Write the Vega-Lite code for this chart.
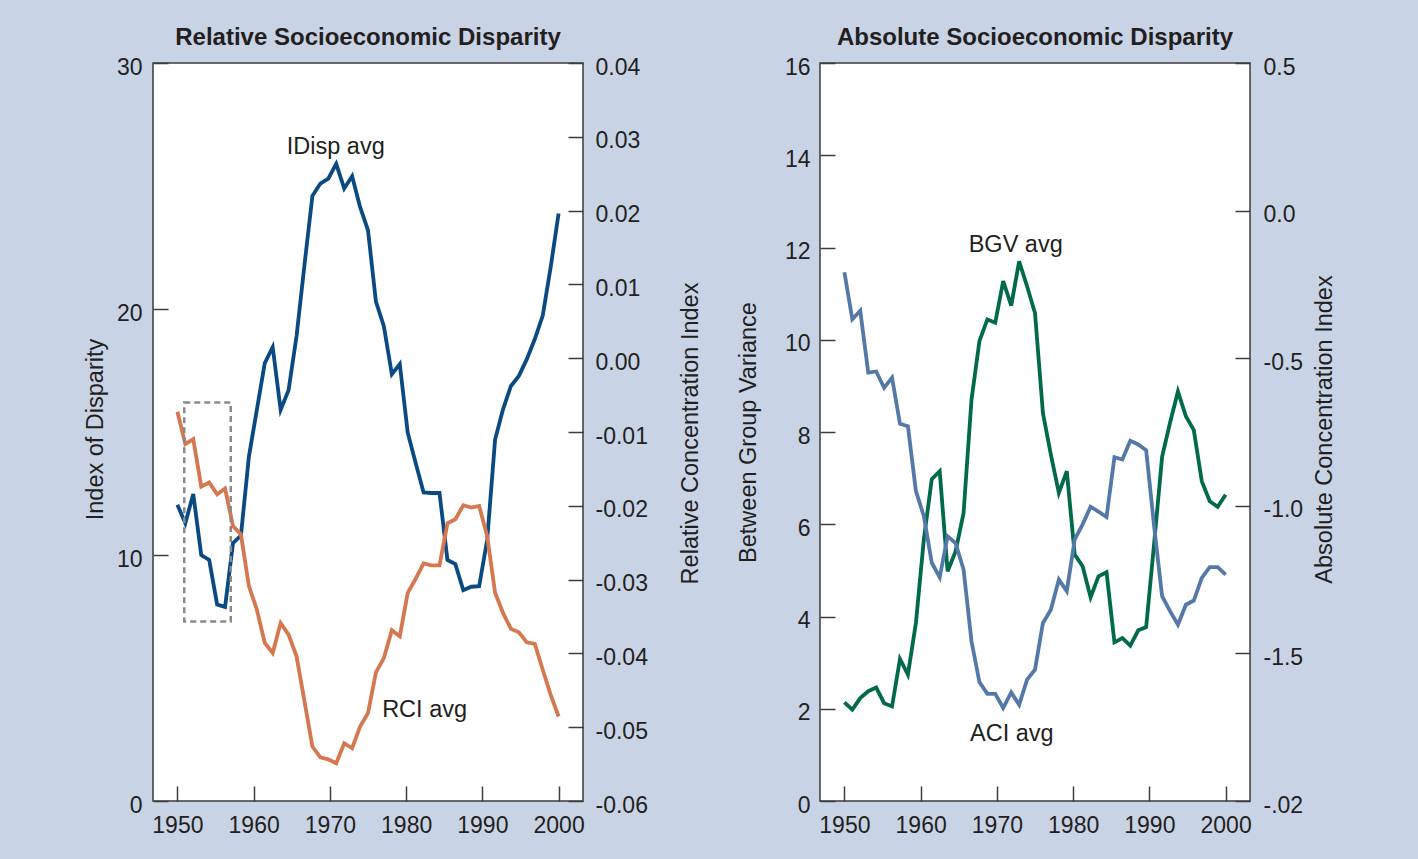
{
  "$schema": "https://vega.github.io/schema/vega-lite/v6.json",
  "autosize": {"type": "none"},
  "padding": {"left": 153, "top": 63, "right": 1265, "bottom": 796},
  "background": "#c9d3e6",
  "spacing": 237,
  "bounds": "flush",
  "datasets": {
    "relative": [
      {"year": 1950, "idisp": 12.04, "rci": -0.00725},
      {"year": 1951.04, "idisp": 11.29, "rci": -0.01164},
      {"year": 1952.08, "idisp": 12.48, "rci": -0.01096},
      {"year": 1953.13, "idisp": 10.0, "rci": -0.01739},
      {"year": 1954.17, "idisp": 9.8, "rci": -0.01685},
      {"year": 1955.21, "idisp": 7.99, "rci": -0.01843},
      {"year": 1956.25, "idisp": 7.89, "rci": -0.01766},
      {"year": 1957.29, "idisp": 10.48, "rci": -0.02274},
      {"year": 1958.33, "idisp": 10.79, "rci": -0.02387},
      {"year": 1959.38, "idisp": 14.0, "rci": -0.03089},
      {"year": 1960.42, "idisp": 15.9, "rci": -0.03406},
      {"year": 1961.46, "idisp": 17.8, "rci": -0.03859},
      {"year": 1962.5, "idisp": 18.45, "rci": -0.03995},
      {"year": 1963.54, "idisp": 15.9, "rci": -0.03587},
      {"year": 1964.58, "idisp": 16.7, "rci": -0.03746},
      {"year": 1965.63, "idisp": 18.9, "rci": -0.0404},
      {"year": 1966.67, "idisp": 21.8, "rci": -0.0465},
      {"year": 1967.71, "idisp": 24.6, "rci": -0.05262},
      {"year": 1968.75, "idisp": 25.1, "rci": -0.05408},
      {"year": 1969.79, "idisp": 25.3, "rci": -0.05435},
      {"year": 1970.83, "idisp": 25.9, "rci": -0.05489},
      {"year": 1971.88, "idisp": 24.9, "rci": -0.05217},
      {"year": 1972.92, "idisp": 25.4, "rci": -0.05285},
      {"year": 1973.96, "idisp": 24.15, "rci": -0.0499},
      {"year": 1975, "idisp": 23.2, "rci": -0.0481},
      {"year": 1976.04, "idisp": 20.3, "rci": -0.04257},
      {"year": 1977.08, "idisp": 19.3, "rci": -0.04063},
      {"year": 1978.13, "idisp": 17.35, "rci": -0.03686},
      {"year": 1979.17, "idisp": 17.76, "rci": -0.03768},
      {"year": 1980.21, "idisp": 14.97, "rci": -0.03179},
      {"year": 1981.25, "idisp": 13.74, "rci": -0.02989},
      {"year": 1982.29, "idisp": 12.54, "rci": -0.02781},
      {"year": 1983.33, "idisp": 12.52, "rci": -0.02808},
      {"year": 1984.38, "idisp": 12.52, "rci": -0.02808},
      {"year": 1985.42, "idisp": 9.8, "rci": -0.02238},
      {"year": 1986.46, "idisp": 9.63, "rci": -0.02183},
      {"year": 1987.5, "idisp": 8.57, "rci": -0.01993},
      {"year": 1988.54, "idisp": 8.71, "rci": -0.02024},
      {"year": 1989.58, "idisp": 8.73, "rci": -0.02002},
      {"year": 1990.63, "idisp": 10.61, "rci": -0.02409},
      {"year": 1991.67, "idisp": 14.69, "rci": -0.03179},
      {"year": 1992.71, "idisp": 15.92, "rci": -0.03451},
      {"year": 1993.75, "idisp": 16.87, "rci": -0.03668},
      {"year": 1994.79, "idisp": 17.28, "rci": -0.03714},
      {"year": 1995.83, "idisp": 17.96, "rci": -0.0385},
      {"year": 1996.88, "idisp": 18.78, "rci": -0.03872},
      {"year": 1997.92, "idisp": 19.73, "rci": -0.04221},
      {"year": 1998.96, "idisp": 21.7, "rci": -0.04561},
      {"year": 2000, "idisp": 23.88, "rci": -0.04855}
    ],
    "absolute": [
      {"year": 1950, "bgv": 2.14, "aci": -0.209},
      {"year": 1951.04, "bgv": 1.98, "aci": -0.368},
      {"year": 1952.08, "bgv": 2.23, "aci": -0.339},
      {"year": 1953.13, "bgv": 2.38, "aci": -0.549},
      {"year": 1954.17, "bgv": 2.46, "aci": -0.545},
      {"year": 1955.21, "bgv": 2.12, "aci": -0.6},
      {"year": 1956.25, "bgv": 2.05, "aci": -0.566},
      {"year": 1957.29, "bgv": 3.08, "aci": -0.722},
      {"year": 1958.33, "bgv": 2.74, "aci": -0.73},
      {"year": 1959.38, "bgv": 3.86, "aci": -0.95},
      {"year": 1960.42, "bgv": 5.67, "aci": -1.035},
      {"year": 1961.46, "bgv": 6.98, "aci": -1.193},
      {"year": 1962.5, "bgv": 7.15, "aci": -1.242},
      {"year": 1963.54, "bgv": 4.98, "aci": -1.103},
      {"year": 1964.58, "bgv": 5.41, "aci": -1.126},
      {"year": 1965.63, "bgv": 6.24, "aci": -1.216},
      {"year": 1966.67, "bgv": 8.7, "aci": -1.459},
      {"year": 1967.71, "bgv": 9.97, "aci": -1.597},
      {"year": 1968.75, "bgv": 10.44, "aci": -1.637},
      {"year": 1969.79, "bgv": 10.37, "aci": -1.637},
      {"year": 1970.83, "bgv": 11.27, "aci": -1.685},
      {"year": 1971.88, "bgv": 10.74, "aci": -1.632},
      {"year": 1972.92, "bgv": 11.7, "aci": -1.674},
      {"year": 1973.96, "bgv": 11.16, "aci": -1.589},
      {"year": 1975, "bgv": 10.58, "aci": -1.555},
      {"year": 1976.04, "bgv": 8.41, "aci": -1.397},
      {"year": 1977.08, "bgv": 7.51, "aci": -1.352},
      {"year": 1978.13, "bgv": 6.68, "aci": -1.25},
      {"year": 1979.17, "bgv": 7.15, "aci": -1.289},
      {"year": 1980.21, "bgv": 5.34, "aci": -1.114},
      {"year": 1981.25, "bgv": 5.09, "aci": -1.063},
      {"year": 1982.29, "bgv": 4.42, "aci": -1.003},
      {"year": 1983.33, "bgv": 4.87, "aci": -1.02},
      {"year": 1984.38, "bgv": 4.96, "aci": -1.038},
      {"year": 1985.42, "bgv": 3.44, "aci": -0.835},
      {"year": 1986.46, "bgv": 3.53, "aci": -0.843},
      {"year": 1987.5, "bgv": 3.37, "aci": -0.78},
      {"year": 1988.54, "bgv": 3.7, "aci": -0.792},
      {"year": 1989.58, "bgv": 3.77, "aci": -0.812},
      {"year": 1990.63, "bgv": 5.59, "aci": -1.07},
      {"year": 1991.67, "bgv": 7.46, "aci": -1.306},
      {"year": 1992.71, "bgv": 8.2, "aci": -1.357},
      {"year": 1993.75, "bgv": 8.88, "aci": -1.403},
      {"year": 1994.79, "bgv": 8.34, "aci": -1.335},
      {"year": 1995.83, "bgv": 8.04, "aci": -1.321},
      {"year": 1996.88, "bgv": 6.93, "aci": -1.244},
      {"year": 1997.92, "bgv": 6.5, "aci": -1.208},
      {"year": 1998.96, "bgv": 6.38, "aci": -1.208},
      {"year": 2000, "bgv": 6.64, "aci": -1.233}
    ],
    "relLabels": [
      {"year": 1970.77, "val": 26.3, "label": "IDisp avg"},
      {"year": 1982.42, "val": 3.43, "label": "RCI avg"}
    ],
    "absLabels": [
      {"year": 1972.47, "val": 11.9, "label": "BGV avg"},
      {"year": 1971.96, "val": 1.31, "label": "ACI avg"}
    ],
    "box": [
      {"year": 1950.9, "year2": 1957.0, "lo": 7.3, "hi": 16.2}
    ]
  },
  "hconcat": [
    {
      "width": 430,
      "height": 738,
      "title": {"text": "Relative Socioeconomic Disparity", "frame": "group", "anchor": "middle", "offset": -13, "baseline": "alphabetic"},
      "resolve": {"scale": {"y": "independent"}},
      "layer": [
        {
          "data": {"name": "relative"},
          "mark": {"type": "line", "color": "#0a4a82", "strokeWidth": 3.8},
          "encoding": {
            "x": {"field": "year", "type": "quantitative", "scale": {"domain": [1946.8, 2003.2], "nice": false, "zero": false}, "axis": {"values": [1950, 1960, 1970, 1980, 1990, 2000], "format": "d", "title": null, "labelPadding": 28}},
            "y": {"field": "idisp", "type": "quantitative", "scale": {"domain": [0, 30], "nice": false, "zero": false},
              "axis": {"orient": "left", "values": [0, 10, 20, 30], "labelPadding": 26, "title": "Index of Disparity", "titleX": -51, "titleY": 366, "titleAngle": 270, "titleAlign": "center", "titleBaseline": "alphabetic"}}
          }
        },
        {
          "data": {"name": "relative"},
          "mark": {"type": "line", "color": "#d5774f", "strokeWidth": 3.8},
          "encoding": {
            "x": {"field": "year", "type": "quantitative", "scale": {"domain": [1946.8, 2003.2], "nice": false, "zero": false}, "axis": {"values": [1950, 1960, 1970, 1980, 1990, 2000], "format": "d", "title": null, "labelPadding": 28}},
            "y": {"field": "rci", "type": "quantitative", "scale": {"domain": [-0.06, 0.04], "nice": false, "zero": false},
              "axis": {"orient": "right", "values": [0.04, 0.03, 0.02, 0.01, 0, -0.01, -0.02, -0.03, -0.04, -0.05, -0.06], "labelExpr": "(datum.value < 0 ? '-' : '') + format(abs(datum.value), '.2f')", "labelPadding": 27, "title": "Relative Concentration Index", "titleX": 114, "titleY": 370, "titleAngle": 270, "titleAlign": "center", "titleBaseline": "alphabetic"}}
          }
        },
        {
          "data": {"name": "box"},
          "mark": {"type": "rect", "fill": "transparent", "stroke": "#8a8a8a", "strokeWidth": 2.5, "strokeDash": [6, 4]},
          "encoding": {
            "x": {"field": "year", "type": "quantitative", "scale": {"domain": [1946.8, 2003.2], "nice": false, "zero": false}, "axis": {"values": [1950, 1960, 1970, 1980, 1990, 2000], "format": "d", "title": null, "labelPadding": 28}},
            "x2": {"field": "year2"},
            "y": {"field": "lo", "type": "quantitative", "scale": {"domain": [0, 30], "nice": false, "zero": false}, "axis": null},
            "y2": {"field": "hi"}
          }
        },
        {
          "data": {"name": "relLabels"},
          "mark": {"type": "text", "align": "center", "baseline": "alphabetic", "fontSize": 23.5, "color": "#231f20"},
          "encoding": {
            "x": {"field": "year", "type": "quantitative", "scale": {"domain": [1946.8, 2003.2], "nice": false, "zero": false}, "axis": {"values": [1950, 1960, 1970, 1980, 1990, 2000], "format": "d", "title": null, "labelPadding": 28}},
            "y": {"field": "val", "type": "quantitative", "scale": {"domain": [0, 30], "nice": false, "zero": false}, "axis": null},
            "text": {"field": "label"}
          }
        }
      ]
    },
    {
      "width": 430,
      "height": 738,
      "title": {"text": "Absolute Socioeconomic Disparity", "frame": "group", "anchor": "middle", "offset": -13, "baseline": "alphabetic"},
      "resolve": {"scale": {"y": "independent"}},
      "layer": [
        {
          "data": {"name": "absolute"},
          "mark": {"type": "line", "color": "#006a4a", "strokeWidth": 3.8},
          "encoding": {
            "x": {"field": "year", "type": "quantitative", "scale": {"domain": [1946.8, 2003.2], "nice": false, "zero": false}, "axis": {"values": [1950, 1960, 1970, 1980, 1990, 2000], "format": "d", "title": null, "labelPadding": 28}},
            "y": {"field": "bgv", "type": "quantitative", "scale": {"domain": [0, 16], "nice": false, "zero": false},
              "axis": {"orient": "left", "values": [0, 2, 4, 6, 8, 10, 12, 14, 16], "labelPadding": 25, "title": "Between Group Variance", "titleX": -65, "titleY": 369, "titleAngle": 270, "titleAlign": "center", "titleBaseline": "alphabetic"}}
          }
        },
        {
          "data": {"name": "absolute"},
          "mark": {"type": "line", "color": "#5479a9", "strokeWidth": 3.8},
          "encoding": {
            "x": {"field": "year", "type": "quantitative", "scale": {"domain": [1946.8, 2003.2], "nice": false, "zero": false}, "axis": {"values": [1950, 1960, 1970, 1980, 1990, 2000], "format": "d", "title": null, "labelPadding": 28}},
            "y": {"field": "aci", "type": "quantitative", "scale": {"domain": [-2, 0.5], "nice": false, "zero": false},
              "axis": {"orient": "right", "values": [0.5, 0, -0.5, -1, -1.5, -2], "labelExpr": "datum.value == -2 ? '-.02' : (datum.value < 0 ? '-' : '') + format(abs(datum.value), '.1f')", "labelPadding": 28, "title": "Absolute Concentration Index", "titleX": 81, "titleY": 366, "titleAngle": 270, "titleAlign": "center", "titleBaseline": "alphabetic"}}
          }
        },
        {
          "data": {"name": "absLabels"},
          "mark": {"type": "text", "align": "center", "baseline": "alphabetic", "fontSize": 23.5, "color": "#231f20"},
          "encoding": {
            "x": {"field": "year", "type": "quantitative", "scale": {"domain": [1946.8, 2003.2], "nice": false, "zero": false}, "axis": {"values": [1950, 1960, 1970, 1980, 1990, 2000], "format": "d", "title": null, "labelPadding": 28}},
            "y": {"field": "val", "type": "quantitative", "scale": {"domain": [0, 16], "nice": false, "zero": false}, "axis": null},
            "text": {"field": "label"}
          }
        }
      ]
    }
  ],
  "config": {
    "font": "Liberation Sans",
    "view": {"fill": "white", "stroke": "#3d3d3d", "strokeWidth": 1.5},
    "axis": {
      "domain": false,
      "grid": false,
      "tickColor": "#3d3d3d",
      "tickWidth": 1.5,
      "tickSize": -15,
      "labelFont": "Liberation Sans",
      "labelFontSize": 23,
      "labelColor": "#231f20",
      "labelFlush": false,
      "labelOverlap": false,
      "titleFont": "Liberation Sans",
      "titleFontSize": 23.5,
      "titleFontWeight": "normal",
      "titleColor": "#231f20"
    },
    "axisY": {"labelOffset": 4},
    "title": {"font": "Liberation Sans", "fontSize": 24, "fontWeight": "bold", "color": "#231f20"},
    "text": {"font": "Liberation Sans"}
  }
}
